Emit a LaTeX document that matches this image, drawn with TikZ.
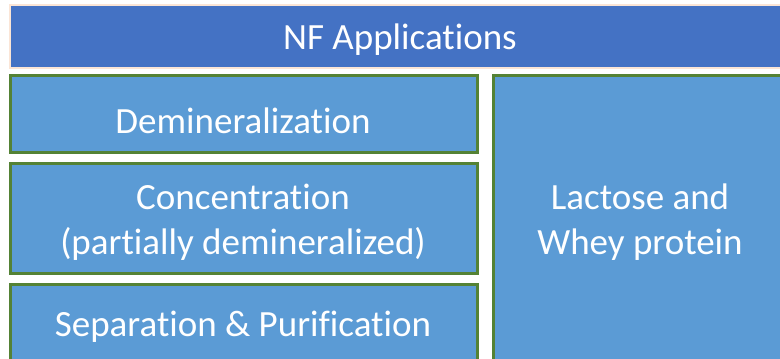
\documentclass[tikz,border=0pt]{standalone}
\usepackage{fontspec}
\setmainfont[Ligatures=NoCommon]{Carlito}
\definecolor{topblue}{HTML}{4472C4}
\definecolor{boxblue}{HTML}{5B9BD5}
\definecolor{boxgreen}{HTML}{548235}
\definecolor{peach}{HTML}{FBE5D6}
\begin{document}
\begin{tikzpicture}[x=1pt,y=-1pt,
  topbar/.style={fill=topblue,draw=peach,line width=2.5pt},
  appbox/.style={fill=boxblue,draw=boxgreen,line width=3pt},
  lbl/.style={text=white,font=\fontsize{37}{45}\selectfont,align=center,inner sep=0pt}]
\useasboundingbox (0,0) rectangle (780,359);
\clip (0,0) rectangle (780,359);
\draw[topbar] (10,5) rectangle (800,68);
\draw[appbox] (10,75) rectangle (477,152);
\draw[appbox] (10,163) rectangle (477,273);
\draw[appbox] (10,284) rectangle (477,380);
\draw[appbox] (493,75) rectangle (800,380);
\node[lbl] (title) at (400,40) {NF Applications};
\node[lbl] (demin) at (243,121) {Demineralization};
\node[lbl] (conc) at (243,222) {Concentration\\(partially demineralized)};
\node[lbl] (sep) at (243,327) {Separation \& Purification};
\node[lbl] (lact) at (640,222) {Lactose and\\Whey protein};
\end{tikzpicture}
\end{document}
